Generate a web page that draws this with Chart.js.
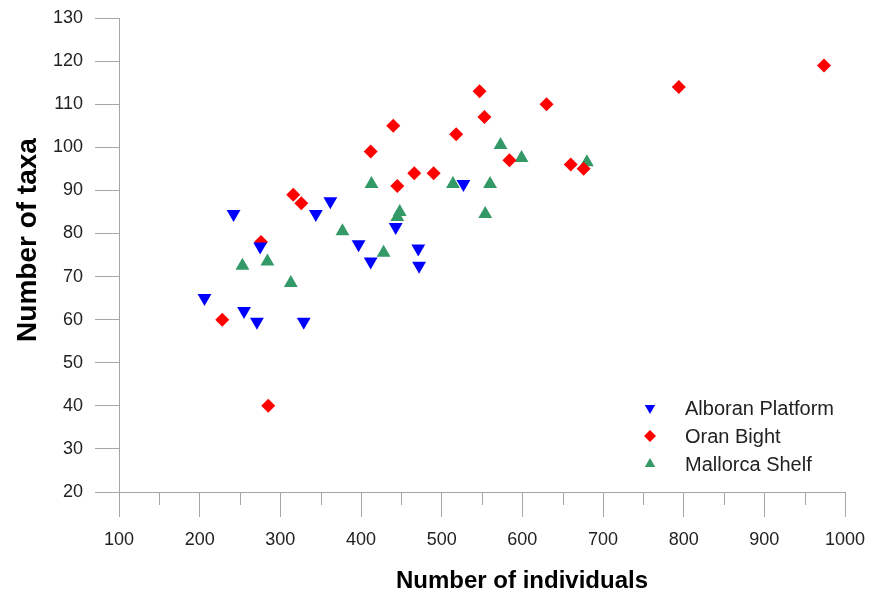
<!DOCTYPE html>
<html>
<head>
<meta charset="utf-8">
<style>
  html, body { margin: 0; padding: 0; background: #fff; }
  #wrap { width: 874px; height: 594px; }
</style>
<script src="https://cdn.jsdelivr.net/npm/chart.js@4.4.1/dist/chart.umd.min.js"></script>
</head>
<body>
<div id="wrap"><canvas id="taxaChart"></canvas></div>
<script>
// values
var seriesNames = ['Alboran Platform', 'Oran Bight', 'Mallorca Shelf'];

var alboranX = [206, 242, 275, 255, 271, 329, 344, 362, 397, 412, 443, 471, 472, 527];
var alboranY = [65, 84.5, 77, 62, 59.5, 59.5, 84.5, 87.5, 77.5, 73.5, 81.5, 76.5, 72.5, 91.5];

var oranX = [228, 285, 276, 316, 326, 412, 440, 445, 466, 490, 518, 547, 553, 584, 630, 660, 676, 794, 974];
var oranY = [60, 40, 78, 89, 87, 99, 105, 91, 94, 94, 103, 113, 107, 97, 110, 96, 95, 114, 119];

var mallorcaX = [253, 284, 313, 377, 413, 428, 445, 448, 514, 554, 560, 573, 599, 680];
var mallorcaY = [72.5, 73.5, 68.5, 80.5, 91.5, 75.5, 83.8, 85, 91.5, 84.5, 91.5, 100.5, 97.5, 96.5];

var xMin = 100, xMax = 1000, xStep = 100;
var yMin = 20, yMax = 130, yStep = 10;

var xTitle = 'Number of individuals';
var yTitle = 'Number of taxa';

var axisGrey = '#a6a6a6';
var labelFont = 'Arial, "Liberation Sans", sans-serif';

function toPoints(xs, ys) {
    return xs.map(function (x, i) { return { x: x, y: ys[i] }; });
}

var styles = [
    { color: '#0000ff', pointStyle: 'triangle', rotation: 180, radius: 8 },
    { color: '#ff0000', pointStyle: 'rectRot', rotation: 0, radius: 7 },
    { color: '#339966', pointStyle: 'triangle', rotation: 0, radius: 8 }
];

var allData = [
    toPoints(alboranX, alboranY),
    toPoints(oranX, oranY),
    toPoints(mallorcaX, mallorcaY)
];

// legend drawn inside the plot, lower right
var insideLegend = {
    id: 'insideLegend',
    afterDraw: function (chart) {
        var ctx = chart.ctx;
        var area = chart.chartArea;
        var x0 = area.right - 195;
        var y0 = area.bottom - 84;
        ctx.save();
        ctx.font = '20px ' + labelFont;
        ctx.textBaseline = 'middle';
        ctx.textAlign = 'left';
        seriesNames.forEach(function (name, i) {
            var s = styles[i];
            var y = y0 + i * 28;
            ctx.fillStyle = s.color;
            Chart.helpers.drawPoint(ctx, {
                pointStyle: s.pointStyle, rotation: s.rotation, radius: 6, borderWidth: 0
            }, x0, y);
            ctx.fillStyle = '#222';
            ctx.fillText(name, x0 + 35, y + 1);
        });
        ctx.restore();
    }
};

// axis titles, placed where the original figure has them
var axisTitles = {
    id: 'axisTitles',
    afterDraw: function (chart) {
        var ctx = chart.ctx;
        var area = chart.chartArea;
        ctx.save();
        ctx.fillStyle = '#000';
        ctx.textAlign = 'center';
        ctx.textBaseline = 'alphabetic';
        ctx.font = 'bold 24px ' + labelFont;
        ctx.fillText(xTitle, (area.left + area.right) / 2 + 40, chart.height - 6);
        ctx.translate(36, (area.top + area.bottom) / 2 - 15);
        ctx.rotate(-Math.PI / 2);
        ctx.font = 'bold 28px ' + labelFont;
        ctx.fillText(yTitle, 0, 0);
        ctx.restore();
    }
};

// short minor ticks halfway between the labelled x ticks
var minorTicks = {
    id: 'minorTicks',
    afterDraw: function (chart) {
        var ctx = chart.ctx;
        var scale = chart.scales.x;
        var ticks = scale.ticks;
        var bottom = chart.chartArea.bottom;
        ctx.save();
        ctx.strokeStyle = axisGrey;
        ctx.lineWidth = 1;
        for (var i = 0; i < ticks.length - 1; i++) {
            var px = Math.round(scale.getPixelForValue((ticks[i].value + ticks[i + 1].value) / 2)) + 0.5;
            ctx.beginPath();
            ctx.moveTo(px, bottom);
            ctx.lineTo(px, bottom + 13);
            ctx.stroke();
        }
        ctx.restore();
    }
};

new Chart(document.getElementById('taxaChart'), {
    type: 'scatter',
    data: {
        datasets: seriesNames.map(function (name, i) {
            return {
                label: name,
                data: allData[i],
                backgroundColor: styles[i].color,
                borderColor: styles[i].color,
                borderWidth: 0,
                pointStyle: styles[i].pointStyle,
                rotation: styles[i].rotation,
                pointRadius: styles[i].radius,
                pointHoverRadius: styles[i].radius
            };
        })
    },
    options: {
        responsive: true,
        maintainAspectRatio: false,
        animation: false,
        layout: { padding: { top: 18, right: 29, left: 0, bottom: 0 } },
        plugins: {
            legend: { display: false },
            tooltip: { enabled: false }
        },
        scales: {
            x: {
                type: 'linear',
                min: xMin,
                max: xMax,
                afterFit: function (scale) {
                    scale.height = 102;
                    scale.paddingLeft = 0;
                    scale.paddingRight = 0;
                },
                ticks: {
                    stepSize: xStep,
                    autoSkip: false,
                    maxRotation: 0,
                    padding: 12,
                    color: '#222',
                    font: { family: labelFont, size: 18 },
                    callback: function (v) { return String(v); }
                },
                grid: {
                    drawOnChartArea: false,
                    tickLength: 25,
                    color: axisGrey
                },
                border: { color: axisGrey }
            },
            y: {
                type: 'linear',
                min: yMin,
                max: yMax,
                afterFit: function (scale) {
                    scale.width = 119;
                    scale.paddingTop = 0;
                    scale.paddingBottom = 0;
                },
                ticks: {
                    stepSize: yStep,
                    padding: 12,
                    color: '#222',
                    font: { family: labelFont, size: 18 }
                },
                grid: {
                    drawOnChartArea: false,
                    tickLength: 24,
                    color: axisGrey
                },
                border: { color: axisGrey }
            }
        }
    },
    plugins: [insideLegend, axisTitles, minorTicks]
});
</script>
</body>
</html>
